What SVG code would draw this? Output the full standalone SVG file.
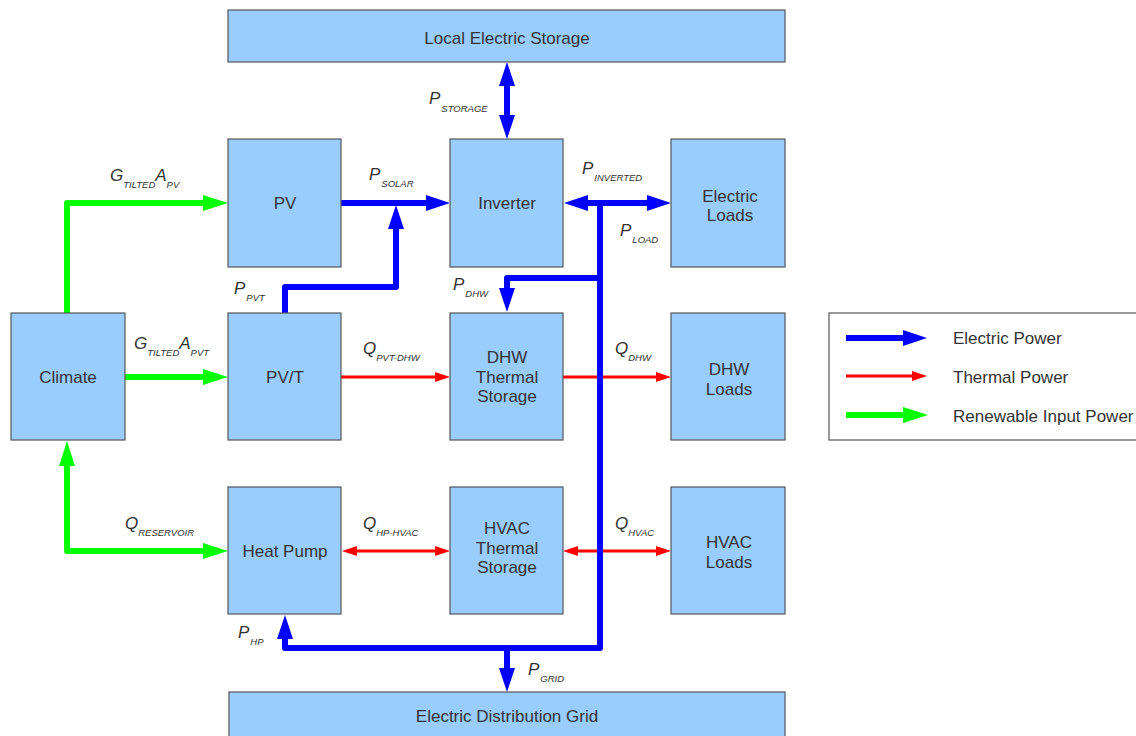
<svg xmlns="http://www.w3.org/2000/svg" width="1136" height="736" viewBox="0 0 1136 736">
<style>
.box{fill:#99ccff;stroke:#555;stroke-width:1.2}
.lbl{font-family:"Liberation Sans",Arial,sans-serif;font-size:17px;fill:#333;text-anchor:middle}
.var{font-family:"Liberation Sans",Arial,sans-serif;font-size:17px;font-style:italic;fill:#333}
.sub{font-size:9.5px}
.leg{font-family:"Liberation Sans",Arial,sans-serif;font-size:17px;fill:#333}
.el{fill:none;stroke:#0000ff;stroke-width:6;stroke-linejoin:round}
.th{fill:none;stroke:#ff0000;stroke-width:3}
.rn{fill:none;stroke:#00ff00;stroke-width:6;stroke-linejoin:round}
</style>
<defs>
<marker id="hb" markerUnits="userSpaceOnUse" markerWidth="24" markerHeight="16" refX="1" refY="8" orient="auto-start-reverse"><path d="M0,0 L24,8 L0,16 z" fill="#0000ff"/></marker>
<marker id="hg" markerUnits="userSpaceOnUse" markerWidth="25" markerHeight="16" refX="1" refY="8" orient="auto-start-reverse"><path d="M0,0 L25,8 L0,16 z" fill="#00ff00"/></marker>
<marker id="hr" markerUnits="userSpaceOnUse" markerWidth="15" markerHeight="10" refX="1" refY="5" orient="auto-start-reverse"><path d="M0,0 L15,5 L0,10 z" fill="#ff0000"/></marker>
</defs>
<rect width="1136" height="736" fill="#fff"/>

<g id="connectors">
<path class="th" d="M341,377 H436" marker-end="url(#hr)"/>
<path class="th" d="M563,377 H657" marker-end="url(#hr)"/>
<path class="th" d="M356,551 H436" marker-start="url(#hr)" marker-end="url(#hr)"/>
<path class="th" d="M577,551 H657" marker-start="url(#hr)" marker-end="url(#hr)"/>
<path class="rn" d="M67,313 V203 H204" marker-end="url(#hg)"/>
<path class="rn" d="M125,377 H204" marker-end="url(#hg)"/>
<path class="rn" d="M67,465 V551 H204" marker-start="url(#hg)" marker-end="url(#hg)"/>
<path class="el" d="M341,203 H427" marker-end="url(#hb)"/>
<path class="el" d="M285,313 V287 H396 V228" marker-end="url(#hb)"/>
<path class="el" d="M507,85 V116" marker-start="url(#hb)" marker-end="url(#hb)"/>
<path class="el" d="M587,203 H648" marker-start="url(#hb)" marker-end="url(#hb)"/>
<path class="el" d="M600,203 V648 H285 V638" marker-end="url(#hb)"/>
<path class="el" d="M600,278 H507 V289" marker-end="url(#hb)"/>
<path class="el" d="M507,648 V669" marker-end="url(#hb)"/>
</g>

<g id="storage"><rect class="box" x="228" y="10" width="557" height="52"/><text class="lbl" x="507" y="44">Local Electric Storage</text></g>
<g id="pv"><rect class="box" x="228" y="139" width="113" height="128"/><text class="lbl" x="285" y="209">PV</text></g>
<g id="inverter"><rect class="box" x="450" y="139" width="113" height="128"/><text class="lbl" x="507" y="209">Inverter</text></g>
<g id="electric-loads"><rect class="box" x="671" y="139" width="114" height="128"/><text class="lbl" x="730" y="202">Electric</text><text class="lbl" x="730" y="221">Loads</text></g>
<g id="climate"><rect class="box" x="11" y="313" width="114" height="127"/><text class="lbl" x="68" y="383">Climate</text></g>
<g id="pvt"><rect class="box" x="228" y="313" width="113" height="127"/><text class="lbl" x="285" y="383">PV/T</text></g>
<g id="dhw-storage"><rect class="box" x="450" y="313" width="113" height="127"/><text class="lbl" x="507" y="363">DHW</text><text class="lbl" x="507" y="383">Thermal</text><text class="lbl" x="507" y="402">Storage</text></g>
<g id="dhw-loads"><rect class="box" x="671" y="313" width="114" height="127"/><text class="lbl" x="729" y="375">DHW</text><text class="lbl" x="729" y="395">Loads</text></g>
<g id="heat-pump"><rect class="box" x="228" y="487" width="113" height="127"/><text class="lbl" x="285" y="557">Heat Pump</text></g>
<g id="hvac-storage"><rect class="box" x="450" y="487" width="113" height="127"/><text class="lbl" x="507" y="534">HVAC</text><text class="lbl" x="507" y="554">Thermal</text><text class="lbl" x="507" y="573">Storage</text></g>
<g id="hvac-loads"><rect class="box" x="671" y="487" width="114" height="127"/><text class="lbl" x="729" y="548">HVAC</text><text class="lbl" x="729" y="568">Loads</text></g>
<g id="grid"><rect class="box" x="229" y="692" width="556" height="60"/><text class="lbl" x="507" y="722">Electric Distribution Grid</text></g>

<g id="labels">
<text class="var" x="110" y="181">G<tspan class="sub" dy="7">TILTED</tspan><tspan dy="-7">A</tspan><tspan class="sub" dy="7">PV</tspan></text>
<text class="var" x="134" y="349">G<tspan class="sub" dy="7">TILTED</tspan><tspan dy="-7">A</tspan><tspan class="sub" dy="7">PVT</tspan></text>
<text class="var" x="125" y="529">Q<tspan class="sub" dy="7">RESERVOIR</tspan></text>
<text class="var" x="429" y="104">P<tspan class="sub" dx="1" dy="8">STORAGE</tspan></text>
<text class="var" x="369" y="180">P<tspan class="sub" dx="1" dy="7">SOLAR</tspan></text>
<text class="var" x="582" y="174">P<tspan class="sub" dx="1" dy="7">INVERTED</tspan></text>
<text class="var" x="620" y="236">P<tspan class="sub" dx="1" dy="7">LOAD</tspan></text>
<text class="var" x="234" y="294">P<tspan class="sub" dx="1" dy="7">PVT</tspan></text>
<text class="var" x="453" y="290">P<tspan class="sub" dx="1" dy="7">DHW</tspan></text>
<text class="var" x="363" y="354">Q<tspan class="sub" dy="7">PVT-DHW</tspan></text>
<text class="var" x="615" y="354">Q<tspan class="sub" dy="7">DHW</tspan></text>
<text class="var" x="363" y="529">Q<tspan class="sub" dy="7">HP-HVAC</tspan></text>
<text class="var" x="615" y="529">Q<tspan class="sub" dy="7">HVAC</tspan></text>
<text class="var" x="238" y="638">P<tspan class="sub" dx="1" dy="7">HP</tspan></text>
<text class="var" x="528" y="675">P<tspan class="sub" dx="1" dy="7">GRID</tspan></text>
</g>

<g id="legend">
<rect x="829" y="313" width="320" height="127" fill="#fff" stroke="#555" stroke-width="1.2"/>
<path class="el" d="M846,338 H904" marker-end="url(#hb)"/>
<path class="th" d="M846,376 H913" marker-end="url(#hr)"/>
<path class="rn" d="M846,415 H904" marker-end="url(#hg)"/>
<text class="leg" x="953" y="344">Electric Power</text>
<text class="leg" x="953" y="383">Thermal Power</text>
<text class="leg" x="953" y="422">Renewable Input Power</text>
</g>
</svg>
